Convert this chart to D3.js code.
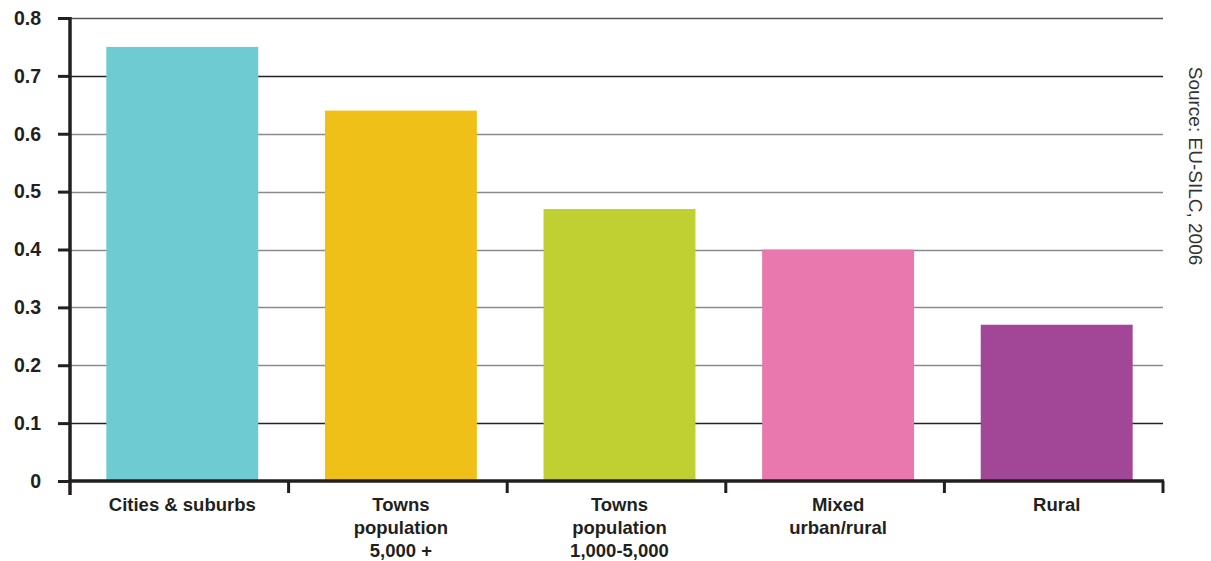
<!DOCTYPE html>
<html>
<head>
<meta charset="utf-8">
<script src="https://cdn.jsdelivr.net/npm/d3@7"></script>
<style>
  html, body { margin: 0; padding: 0; background: #fff; }
  svg { display: block; }
  text { font-family: "Liberation Sans", Arial, Helvetica, sans-serif; }
</style>
</head>
<body>
<svg id="chart" width="1211" height="561"></svg>
<script>
const categories = ["Cities & suburbs", "Towns population 5,000 +", "Towns population 1,000-5,000", "Mixed urban/rural", "Rural"];
const categoryLines = [["Cities & suburbs"], ["Towns", "population", "5,000 +"], ["Towns", "population", "1,000-5,000"], ["Mixed", "urban/rural"], ["Rural"]];
const values = [0.75, 0.64, 0.47, 0.40, 0.27];
const barColors = ["#6ecbd1", "#efc018", "#c0cf32", "#e878ae", "#a24697"];
const yTicks = [0, 0.1, 0.2, 0.3, 0.4, 0.5, 0.6, 0.7, 0.8];
const yTickLabels = ["0", "0.1", "0.2", "0.3", "0.4", "0.5", "0.6", "0.7", "0.8"];
const sourceText = "Source: EU-SILC, 2006";

(function () {
const svg = d3.select("#chart");
const mLeft = 70, mRight = 1163, mTop = 18, mBottom = 481;

const x = d3.scaleBand().domain(categories).range([mLeft, mRight]).paddingInner(0.305).paddingOuter(0.1525);
const y = d3.scaleLinear().domain([0, 0.8]).range([mBottom, mTop]);
const ink = "#231f20";

// gridlines
const darkGrid = new Set([0.7, 0.1]);
svg.append("g").selectAll("line").data(yTicks.filter(d => d > 0)).join("line")
  .attr("x1", mLeft).attr("x2", mRight)
  .attr("y1", d => Math.round(y(d)) + 0.5).attr("y2", d => Math.round(y(d)) + 0.5)
  .attr("stroke", d => darkGrid.has(d) ? "#222" : (d === 0.8 ? "#555" : "#8a8a8a"))
  .attr("stroke-width", 1.4);

// bars
svg.append("g").selectAll("rect").data(values).join("rect")
  .attr("x", (d, i) => x(categories[i]) + 3)
  .attr("width", x.bandwidth())
  .attr("y", d => y(d))
  .attr("height", d => y(0) - y(d))
  .attr("fill", (d, i) => barColors[i]);

// y axis
const yAxis = d3.axisLeft(y).tickValues(yTicks).tickFormat((d, i) => yTickLabels[i]).tickSize(12).tickPadding(17);
const gy = svg.append("g").attr("transform", `translate(${mLeft},0)`).call(yAxis);
gy.select(".domain").remove();
gy.selectAll(".tick line").attr("stroke", ink).attr("stroke-width", 3);
gy.selectAll(".tick text").attr("fill", ink).attr("font-size", 19.5).attr("font-weight", "bold")
  .attr("font-family", "'Liberation Sans', Arial, sans-serif");
svg.append("line").attr("x1", mLeft).attr("x2", mLeft).attr("y1", mTop - 1).attr("y2", mBottom + 14)
  .attr("stroke", ink).attr("stroke-width", 3.5);

// x axis
const boundaries = categories.map(c => x(c) - x.step() * x.paddingInner() / 2);
boundaries.push(mRight);
svg.append("line").attr("x1", mLeft).attr("x2", mRight + 1).attr("y1", mBottom).attr("y2", mBottom)
  .attr("stroke", ink).attr("stroke-width", 3.5);
svg.append("g").selectAll("line").data(boundaries.slice(1)).join("line")
  .attr("x1", d => d).attr("x2", d => d)
  .attr("y1", mBottom).attr("y2", mBottom + 12)
  .attr("stroke", ink).attr("stroke-width", 3);

// x labels
const lab = svg.append("g");
categories.forEach((c, i) => {
  const cx = x(c) + 3 + x.bandwidth() / 2;
  const t = lab.append("text")
    .attr("x", cx)
    .attr("y", 511)
    .attr("text-anchor", "middle")
    .attr("font-size", 18.5)
    .attr("font-weight", "bold")
    .attr("fill", ink);
  categoryLines[i].forEach((ln, j) => {
    t.append("tspan").attr("x", cx).attr("dy", j === 0 ? 0 : 23).text(ln);
  });
});

// source
svg.append("text")
  .attr("transform", "translate(1189,166) rotate(90)")
  .attr("text-anchor", "middle")
  .attr("font-size", 19)
  .attr("fill", "#333")
  .text(sourceText);
})();
</script>
</body>
</html>
